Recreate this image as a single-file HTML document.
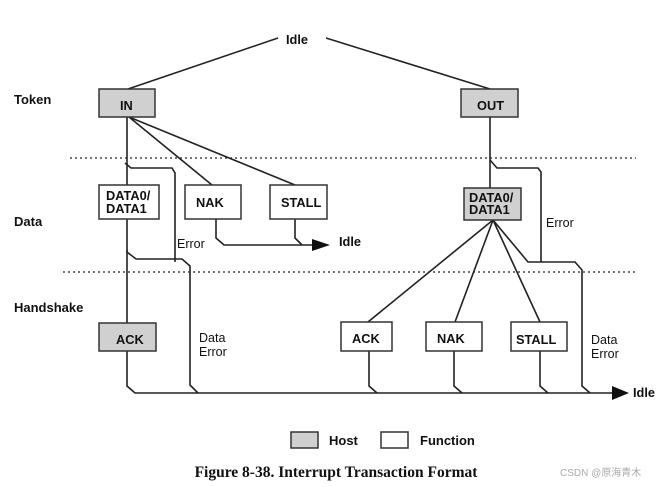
<!DOCTYPE html>
<html><head><meta charset="utf-8"><style>
html,body{margin:0;padding:0;background:#fff;width:665px;height:487px;overflow:hidden}
text{font-family:"Liberation Sans",Arial,sans-serif;fill:#111}
.b{font-weight:bold;font-size:12.8px}
.l{font-weight:bold;font-size:13px}
.n{font-size:12.5px}
</style></head><body>
<svg width="665" height="487" viewBox="0 0 665 487" xmlns="http://www.w3.org/2000/svg">
<g stroke="#222" stroke-width="1.6" fill="none">
<line x1="128" y1="89" x2="278" y2="38"/>
<line x1="326" y1="38" x2="490" y2="89"/>
<line x1="70" y1="158" x2="636" y2="158" stroke-dasharray="2,3" stroke-width="1.2"/>
<line x1="63" y1="272" x2="637" y2="272" stroke-dasharray="2,3" stroke-width="1.2"/>
<line x1="127" y1="117" x2="127" y2="185"/>
<line x1="129" y1="117" x2="212" y2="185"/>
<line x1="129" y1="117" x2="295" y2="185"/>
<polyline points="125,163 131,168 172,168 175,173 175,262"/>
<polyline points="127,219 127,252 136,259 182,259 190,266 190,385 198,393"/>
<line x1="127" y1="250" x2="127" y2="323"/>
<polyline points="127,351 127,386 135,393 612,393"/>
<polyline points="216,219 216,238 224,245 318,245"/>
<polyline points="295,219 295,238 302,245"/>
<line x1="490" y1="117" x2="490" y2="188"/>
<polyline points="490,160 497,168 538,168 541,172 541,262"/>
<line x1="493" y1="220" x2="368" y2="322"/>
<line x1="493" y1="220" x2="455" y2="322"/>
<line x1="493" y1="220" x2="540" y2="322"/>
<polyline points="493,220 528,262 575,262 582,270 582,386 590,393"/>
<polyline points="369,351 369,386 377,393"/>
<polyline points="454,351 454,386 462,393"/>
<polyline points="540,351 540,386 548,393"/>
</g>
<polygon points="312,239 330,245 312,251" fill="#111"/>
<polygon points="612,386 629,393 612,400" fill="#111"/>
<g stroke="#333" stroke-width="1.5">
<rect x="99" y="89" width="56" height="28" fill="#d0d0d0"/>
<rect x="461" y="89" width="57" height="28" fill="#d0d0d0"/>
<rect x="99" y="185" width="60" height="34" fill="#fff"/>
<rect x="185" y="185" width="56" height="34" fill="#fff"/>
<rect x="270" y="185" width="57" height="34" fill="#fff"/>
<rect x="464" y="188" width="57" height="32" fill="#d0d0d0"/>
<rect x="99" y="323" width="57" height="28" fill="#d0d0d0"/>
<rect x="341" y="322" width="51" height="29" fill="#fff"/>
<rect x="426" y="322" width="56" height="29" fill="#fff"/>
<rect x="511" y="322" width="56" height="29" fill="#fff"/>
<rect x="291" y="432" width="27" height="16" fill="#d0d0d0"/>
<rect x="381" y="432" width="27" height="16" fill="#fff"/>
</g>
<text class="b" x="286" y="44">Idle</text>
<text class="l" x="14" y="104">Token</text>
<text class="l" x="14" y="226">Data</text>
<text class="l" x="14" y="312">Handshake</text>
<text class="b" x="120" y="110">IN</text>
<text class="b" x="477" y="110">OUT</text>
<text class="b" x="106" y="200">DATA0/</text>
<text class="b" x="106" y="213">DATA1</text>
<text class="b" x="196" y="207">NAK</text>
<text class="b" x="281" y="207">STALL</text>
<text class="b" x="469" y="202">DATA0/</text>
<text class="b" x="469" y="214">DATA1</text>
<text class="b" x="116" y="344">ACK</text>
<text class="b" x="352" y="343">ACK</text>
<text class="b" x="437" y="343">NAK</text>
<text class="b" x="516" y="344">STALL</text>
<text class="n" x="177" y="248">Error</text>
<text class="b" x="339" y="246">Idle</text>
<text class="n" x="546" y="227">Error</text>
<text class="n" x="199" y="342">Data</text>
<text class="n" x="199" y="356">Error</text>
<text class="n" x="591" y="344">Data</text>
<text class="n" x="591" y="358">Error</text>
<text class="b" x="633" y="397">Idle</text>
<text class="l" x="329" y="445">Host</text>
<text class="l" x="420" y="445">Function</text>
<text x="336" y="477" text-anchor="middle" style="font-family:'Liberation Serif',serif;font-weight:bold;font-size:15.5px">Figure 8-38.  Interrupt Transaction Format</text>
<text x="560" y="476" style="font-family:'Liberation Sans','Noto Sans CJK SC',sans-serif;font-size:10px;fill:#aaa">CSDN @原海青木</text>
</svg>
</body></html>
